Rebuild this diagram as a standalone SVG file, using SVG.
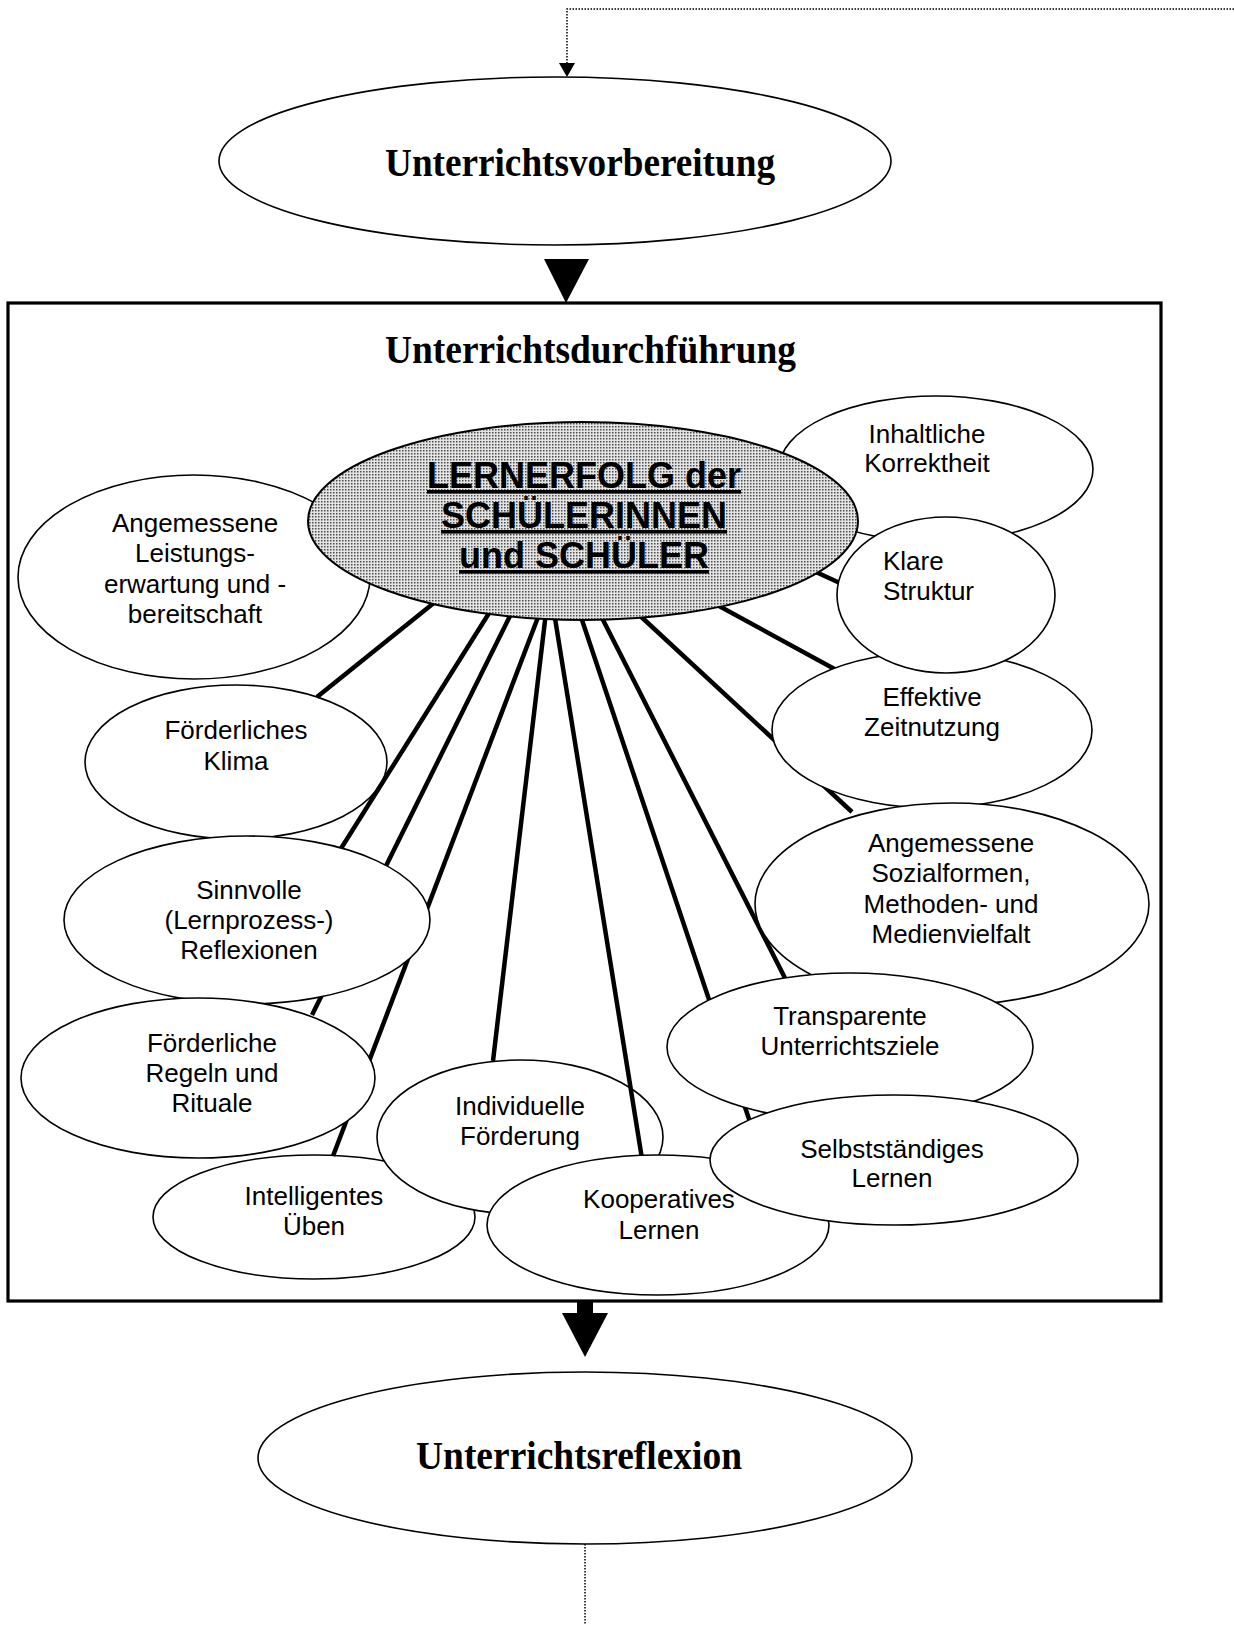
<svg xmlns="http://www.w3.org/2000/svg" width="1234" height="1625" viewBox="0 0 1234 1625">
<defs>
<pattern id="dots" width="3" height="3" patternUnits="userSpaceOnUse"><rect width="3" height="3" fill="#e4e4e4"/><rect width="1.5" height="1.5" fill="#4a4a4a"/></pattern>
<style>
.node{fill:#fff;stroke:#000;stroke-width:1.6}
.t{font-family:"Liberation Sans",Arial,sans-serif;font-size:26px;fill:#000;text-anchor:middle}
.tl{font-family:"Liberation Sans",Arial,sans-serif;font-size:26px;fill:#000;text-anchor:start}
.title{font-family:"Liberation Serif","Times New Roman",serif;font-weight:bold;font-size:40px;fill:#000}
.ct{font-family:"Liberation Sans",Arial,sans-serif;font-weight:bold;font-size:36px;fill:#000;text-anchor:middle;text-decoration:underline}
.con{stroke:#000;stroke-width:4.5;fill:none}
.dot{stroke:#000;stroke-width:1.5;stroke-dasharray:1.5 1.5;fill:none}
</style>
</defs>
<rect width="1234" height="1625" fill="#fff"/>

<g id="feedback-top">
<path class="dot" d="M1234,9 H567 V64"/>
<polygon points="559,63 575,63 567,77" fill="#000"/>
</g>

<g id="vorbereitung">
<ellipse class="node" cx="555" cy="161" rx="336" ry="84"/>
<text class="title" x="385" y="176" textLength="390" lengthAdjust="spacingAndGlyphs">Unterrichtsvorbereitung</text>
</g>

<g id="arrow-top">
<polygon points="544,259 589,259 566,303" fill="#000"/>
</g>

<g id="durchfuehrung">
<rect x="8" y="303" width="1153" height="998" fill="none" stroke="#000" stroke-width="3.2"/>
<text class="title" x="385" y="363" textLength="411" lengthAdjust="spacingAndGlyphs">Unterrichtsdurchführung</text>
</g>

<g id="n-klima">
<ellipse class="node" cx="236" cy="762" rx="151" ry="77"/>
<text class="t" x="236" y="739">Förderliches</text>
<text class="t" x="236" y="770">Klima</text>
</g>
<g id="n-intelligentes">
<ellipse class="node" cx="314" cy="1217" rx="161" ry="62"/>
<text class="t" x="314" y="1205">Intelligentes</text>
<text class="t" x="314" y="1235">Üben</text>
</g>
<g id="n-individuelle">
<ellipse class="node" cx="520" cy="1137" rx="143" ry="77"/>
<text class="t" x="520" y="1115">Individuelle</text>
<text class="t" x="520" y="1145">Förderung</text>
</g>

<g id="connectors">
<line class="con" x1="440" y1="598" x2="317" y2="697"/>
<line class="con" x1="491" y1="610" x2="330" y2="866"/>
<line class="con" x1="512" y1="612" x2="312" y2="1015"/>
<line class="con" x1="540" y1="612" x2="333" y2="1156"/>
<line class="con" x1="546" y1="612" x2="493" y2="1061"/>
<line class="con" x1="554" y1="612" x2="643" y2="1165"/>
<line class="con" x1="580" y1="614" x2="756" y2="1140"/>
<line class="con" x1="600" y1="614" x2="787" y2="982"/>
<line class="con" x1="636" y1="612" x2="852" y2="812"/>
<line class="con" x1="708" y1="600" x2="840" y2="672"/>
<line class="con" x1="805" y1="567" x2="842" y2="584"/>
</g>

<g id="n-leistung">
<ellipse class="node" cx="194" cy="577" rx="176" ry="102"/>
<text class="t" x="195" y="532">Angemessene</text>
<text class="t" x="195" y="562">Leistungs-</text>
<text class="t" x="195" y="593">erwartung und -</text>
<text class="t" x="195" y="623">bereitschaft</text>
</g>
<g id="n-inhaltliche">
<ellipse class="node" cx="936" cy="469" rx="157" ry="73"/>
<text class="t" x="927" y="443">Inhaltliche</text>
<text class="t" x="927" y="472">Korrektheit</text>
</g>
<g id="n-effektive">
<ellipse class="node" cx="932" cy="730" rx="160" ry="78"/>
<text class="t" x="932" y="706">Effektive</text>
<text class="t" x="932" y="736">Zeitnutzung</text>
</g>
<g id="n-klare">
<ellipse class="node" cx="946" cy="595" rx="109" ry="78"/>
<text class="tl" x="883" y="570">Klare</text>
<text class="tl" x="883" y="600">Struktur</text>
</g>
<g id="n-sozialformen">
<ellipse class="node" cx="952" cy="904" rx="197" ry="101"/>
<text class="t" x="951" y="852">Angemessene</text>
<text class="t" x="951" y="882">Sozialformen,</text>
<text class="t" x="951" y="913">Methoden- und</text>
<text class="t" x="951" y="943">Medienvielfalt</text>
</g>
<g id="n-transparente">
<ellipse class="node" cx="850" cy="1047" rx="183" ry="74"/>
<text class="t" x="850" y="1025">Transparente</text>
<text class="t" x="850" y="1055">Unterrichtsziele</text>
</g>
<g id="n-sinnvolle">
<ellipse class="node" cx="247" cy="920" rx="183" ry="84"/>
<text class="t" x="249" y="899">Sinnvolle</text>
<text class="t" x="249" y="929">(Lernprozess-)</text>
<text class="t" x="249" y="959">Reflexionen</text>
</g>
<g id="n-regeln">
<ellipse class="node" cx="198" cy="1078" rx="177" ry="80"/>
<text class="t" x="212" y="1052">Förderliche</text>
<text class="t" x="212" y="1082">Regeln und</text>
<text class="t" x="212" y="1112">Rituale</text>
</g>
<g id="n-kooperatives">
<ellipse class="node" cx="658" cy="1225" rx="171" ry="70"/>
<text class="t" x="659" y="1208">Kooperatives</text>
<text class="t" x="659" y="1239">Lernen</text>
</g>
<g id="n-selbst">
<ellipse class="node" cx="894" cy="1160" rx="184" ry="65"/>
<text class="t" x="892" y="1158">Selbstständiges</text>
<text class="t" x="892" y="1187">Lernen</text>
</g>

<g id="n-lernerfolg">
<ellipse cx="583" cy="521" rx="275" ry="99" fill="url(#dots)" stroke="#000" stroke-width="2"/>
<text class="ct" x="584" y="488">LERNERFOLG der</text>
<text class="ct" x="584" y="528">SCHÜLERINNEN</text>
<text class="ct" x="584" y="568">und SCHÜLER</text>
</g>

<g id="arrow-bottom">
<rect x="577" y="1301" width="16" height="13" fill="#000"/>
<polygon points="562,1313 608,1313 585,1357" fill="#000"/>
</g>

<g id="reflexion">
<ellipse class="node" cx="585" cy="1458" rx="327" ry="86"/>
<text class="title" x="416" y="1469" textLength="326" lengthAdjust="spacingAndGlyphs">Unterrichtsreflexion</text>
</g>

<g id="feedback-bottom">
<path class="dot" d="M585,1544 V1625"/>
</g>
</svg>
